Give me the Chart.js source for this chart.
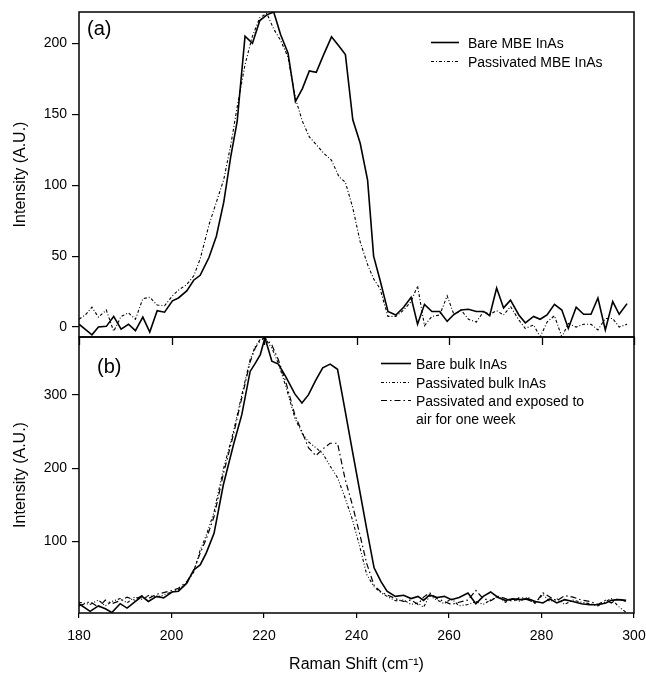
<!DOCTYPE html>
<html><head><meta charset="utf-8">
<script src="https://cdn.jsdelivr.net/npm/chart.js@4.4.0/dist/chart.umd.min.js"></script>
<style>
html,body{margin:0;padding:0;background:#fff;}
#wrap{position:relative;width:646px;height:675px;overflow:hidden;}
#ca{position:absolute;left:0;top:0;}
#cb{position:absolute;left:0;top:330px;}
</style></head><body>
<div id="wrap">
<canvas id="ca" width="646" height="340"></canvas>
<canvas id="cb" width="646" height="345"></canvas>
</div>
<script>
// ---------- Panel (a): MBE InAs ----------
const xMBE = [180,181.5,182.8,184.2,185.9,187.5,189.1,190.7,192.2,193.8,195.3,196.9,198.5,200.2,201.5,203.3,204.8,206.2,208.1,209.7,211.3,212.8,214.2,215.9,217.5,219.1,220.6,222.1,223.6,225.2,226.8,228.3,229.8,231.3,232.9,234.6,236.2,237.6,239.2,240.8,242.4,243.7,245.1,246.8,248.5,250.2,251.8,253.2,254.7,256.3,258,259.6,261.1,262.6,264.2,265.9,267.5,268.8,270.3,271.8,273.3,275.1,276.5,278.3,279.7,281.2,282.8,284.4,285.8,287.5,289.1,290.7,292.2,293.8,295.4,296.8,298.5];
const bareMBE = [2,-2,-5.5,0,0.5,7.5,-1.5,2,-2.5,7,-3.5,11.5,10.5,18.5,20.5,25.5,33,36.5,49,64,88,120,145,205,200,216,220,222,206,193,159,168,180.5,179.5,192,204.5,198,192,146,129.5,103.5,50,33,11,8.5,14,21,2,16,11,11,4,9,12,12.5,11,11,8,27.5,13.5,19,8.5,3,7.5,5.5,8.5,16,12,-1,14,9,9,20.5,-2,18,9,16.5];
const passMBE = [5.5,9,14,7,12,-3,7.5,10,5.5,20,21,15.5,15,22,26,30,36,48,72,88,104,128,155,185,205,218,221,210,202,190,161,145,134,128.5,122.5,117.5,106,102,84,60,44,34,27,7.5,7.5,12,18,29,1,7.5,8.5,22,8.5,12,5.5,3.5,11,9,11.5,8.5,14.5,5,-1,1.5,-7,3.5,8,-7,2.5,0,2,2,-2,6,6,0,2];
const labelsA = ['Bare MBE InAs', 'Passivated MBE InAs'];
const yTicksA = [0, 50, 100, 150, 200];

// ---------- Panel (b): bulk InAs ----------
const xBulk = [180,182.4,184.2,185.7,187.1,188.9,190.4,192,193.6,195,196.8,198.3,200.1,201.5,203.3,204.8,206.2,207.5,209.2,211.2,213.4,215.2,217,218.1,219.2,220.2,221.7,223.1,224.7,226.7,228.2,229.6,231.2,232.7,234.3,235.9,237.5,239.1,240.7,242.2,243.8,245.3,246.6,248.4,250.2,251.8,253.3,254.5,255.8,257.4,259,260.5,262.2,264.1,265.8,267.4,269,270.6,272.2,273.8,275.4,277.1,278.7,280.3,281.8,283.3,285,286.8,288.6,290.4,292.2,293.9,295.1,296.5,298.3];
const bareBulk = [15,4.5,12,8,3,15,9,17,25,18,25,23,31,32,43,61,68,84,111,177,232,273,332,343,355,378,346,342,325,301,289,300,320,337,342,335,280,224,169,117,64,45,32,25,26.5,22,25,19.5,27,23.5,25,20.5,23.5,29.5,15,25,31,23.5,19.5,21.5,20.5,21.5,18,16,21.5,16,20.5,18,15,13.5,13.5,16,19.5,20.5,19.5];
const passBulk = [17,14,20,12,18,22,16,24,21,26,24,27,31,34,44,58,88,108,140,198,250,300,348,366,376,377,364,343,312,268,248,236,228,220,203,187,160,130,93,55,38,30,25,19,20,14,16,10,26,20,15,22,12,14,18,14,20,25,17,22,18,24,15,28,18,22,14,20,17,15,12,18,22,12,3];
const exposedBulk = [12,18,10,20,15,19,24,20,26,22,28,30,33,36,45,60,84,103,134,192,246,296,345,364,374,378,368,348,318,272,250,228,217,226,234,234,186,150,110,70,40,31,27,22,18,20,14,24,30,22,18,14,17,20,33,22,19,25,22,18,24,20,16,30,24,19,26,24,20,18,14,20,16,22,18];
const labelsB = ['Bare bulk InAs', 'Passivated bulk InAs', 'Passivated and exposed to air for one week'];
const legendLinesB = [['Bare bulk InAs'], ['Passivated bulk InAs'], ['Passivated and exposed to', 'air for one week']];
const yTicksB = [100, 200, 300];
const xTicks = [180, 200, 220, 240, 260, 280, 300];

const FONT = '"Liberation Sans", Arial, Helvetica, sans-serif';
Chart.defaults.font.family = FONT;
Chart.defaults.color = '#000';

function pts(xs, ys) { return xs.map((x, i) => ({x: x, y: ys[i]})); }

const framePlugin = {
  id: 'frame',
  afterDraw(chart, args, o) {
    const ctx = chart.ctx, a = chart.chartArea;
    ctx.save();
    ctx.strokeStyle = '#000';
    ctx.lineWidth = 1.5;
    ctx.setLineDash([]);
    ctx.strokeRect(a.left, a.top, a.right - a.left, a.bottom - a.top);
    if (o.topTicks) {
      const xs = chart.scales.x;
      ctx.lineWidth = 1.3;
      o.topTicks.forEach(v => {
        const px = Math.round(xs.getPixelForValue(v)) + 0.5;
        ctx.beginPath(); ctx.moveTo(px, a.top); ctx.lineTo(px, a.top + 8); ctx.stroke();
      });
    }
    ctx.fillStyle = '#000';
    ctx.textBaseline = 'middle';
    ctx.textAlign = 'left';
    ctx.font = '20px ' + FONT;
    ctx.fillText(o.panel, o.panelX, o.panelY);
    ctx.font = '14px ' + FONT;
    chart.data.datasets.forEach((ds, i) => {
      const y = o.rows[i];
      ctx.strokeStyle = '#000';
      ctx.lineWidth = ds.borderWidth;
      ctx.setLineDash(ds.borderDash || []);
      ctx.beginPath(); ctx.moveTo(o.lineX0, y - 1.5); ctx.lineTo(o.lineX1, y - 1.5); ctx.stroke();
      o.lines[i].forEach((t, k) => ctx.fillText(t, o.textX, y + k * 18.5));
    });
    ctx.restore();
  }
};

function yScale(min, max, step, ticksArr) {
  return {
    type: 'linear', min: min, max: max,
    afterBuildTicks(s) { s.ticks = ticksArr.map(v => ({value: v})); },
    ticks: { stepSize: step, includeBounds: false, color: '#000', font: {size: 14}, padding: 5 },
    grid: { drawOnChartArea: false, drawTicks: true, tickLength: 7, color: '#000', lineWidth: 1.2 },
    border: { display: false },
    title: { display: true, text: 'Intensity (A.U.)', color: '#000', font: {size: 16, lineHeight: 1}, padding: {top: 13, bottom: 0} },
    afterFit(s) { s.width = 79; s.paddingTop = 0; s.paddingBottom = 0; }
  };
}

const common = {
  responsive: false, animation: false, events: [],
  elements: { point: { radius: 0 }, line: { tension: 0, borderCapStyle: 'butt', borderJoinStyle: 'miter' } },
};

new Chart(document.getElementById('ca'), {
  type: 'line',
  data: { datasets: [
    { label: labelsA[0], data: pts(xMBE, bareMBE), borderColor: '#000', borderWidth: 1.6, borderDash: [] },
    { label: labelsA[1], data: pts(xMBE, passMBE), borderColor: '#000', borderWidth: 1.1, borderDash: [3, 2, 1, 2] }
  ]},
  options: Object.assign({}, common, {
    layout: { padding: { top: 12, right: 12, left: 0, bottom: 3 } },
    scales: {
      x: { type: 'linear', min: 180, max: 300, display: false },
      y: yScale(-7, 222, 50, yTicksA)
    },
    plugins: {
      legend: { display: false }, tooltip: { enabled: false },
      frame: { panel: '(a)', panelX: 87, panelY: 29, rows: [44, 63], lineX0: 431, lineX1: 459, textX: 468, lines: labelsA.map(l => [l]) }
    }
  }),
  plugins: [framePlugin]
});

new Chart(document.getElementById('cb'), {
  type: 'line',
  data: { datasets: [
    { label: labelsB[0], data: pts(xBulk, bareBulk), borderColor: '#000', borderWidth: 1.6, borderDash: [] },
    { label: labelsB[1], data: pts(xBulk, passBulk), borderColor: '#000', borderWidth: 1.1, borderDash: [3, 2, 1, 2, 1, 2] },
    { label: labelsB[2], data: pts(xBulk, exposedBulk), borderColor: '#000', borderWidth: 1.2, borderDash: [6, 3, 1.5, 3] }
  ]},
  options: Object.assign({}, common, {
    layout: { padding: { top: 7, right: 12, left: 0, bottom: 0 } },
    scales: {
      x: {
        type: 'linear', min: 180, max: 300,
        afterBuildTicks(s) { s.ticks = xTicks.map(v => ({value: v})); },
        ticks: { stepSize: 20, color: '#000', font: {size: 14}, padding: 10, maxRotation: 0 },
        grid: { drawOnChartArea: false, drawTicks: true, tickLength: 5, color: '#000', lineWidth: 1.2 },
        border: { display: false },
        title: { display: true, text: 'Raman Shift (cm\u207B\u00B9)', color: '#000', font: {size: 16, lineHeight: 1}, padding: {top: 0, bottom: 2} },
        afterFit(s) { s.height = 62; s.paddingLeft = 0; s.paddingRight = 0; }
      },
      y: yScale(2.3, 379, 100, yTicksB)
    },
    plugins: {
      legend: { display: false }, tooltip: { enabled: false },
      frame: { panel: '(b)', panelX: 97, panelY: 37, rows: [35, 54, 72], lineX0: 381, lineX1: 411, textX: 416, lines: legendLinesB, topTicks: xTicks }
    }
  }),
  plugins: [framePlugin]
});
</script>
</body></html>
